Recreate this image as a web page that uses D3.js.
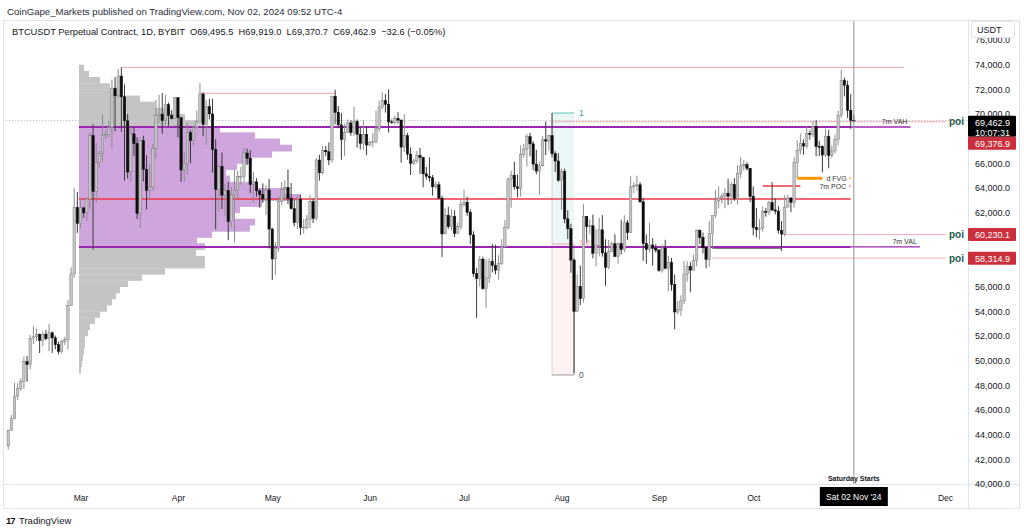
<!DOCTYPE html>
<html>
<head>
<meta charset="utf-8">
<script src="https://cdn.jsdelivr.net/npm/d3@7"></script>
<style>
  body { margin: 0; background: #fff; }
  svg { display: block; font-family: "Liberation Sans", Arial, sans-serif; }
</style>
</head>
<body>
<svg id="chart" width="1024" height="531"></svg>
<script>
// daily candles, BTCUSDT 1D, first bar 2024-02-07, open of a bar = previous close
const firstDay = "2024-02-07";
const firstOpen = 43090;

const closes = [
  // Feb 7-29
  44340, 45290, 47130, 47750, 48300, 49920, 49700, 51800, 51940, 52130, 51640, 52140, 51780, 52260, 51850, 51300, 50740, 51570, 51730, 54480, 57040, 62430, 61130,
  // Mar
  62390, 61990, 63110, 68250, 63720, 66070, 66820, 68250, 68330, 68930, 72100, 71480, 73080, 71400, 69450, 65300, 68390, 67610, 61940, 67840, 65500, 63800, 64080, 67230, 69890, 69990, 69460, 70760, 69900, 69650, 71330,
  // Apr
  69700, 65460, 65960, 68500, 67840, 68900, 69360, 71620, 69140, 70600, 70010, 67130, 63900, 65740, 63420, 63790, 61280, 63470, 63820, 64940, 64940, 66840, 66410, 64280, 64500, 63770, 63460, 63120, 63840, 60670,
  // May
  58250, 59120, 62890, 63890, 64030, 63160, 62330, 61190, 63070, 60800, 60820, 61470, 62900, 61550, 66270, 65230, 67050, 66940, 66280, 71440, 70140, 69120, 67930, 68530, 69280, 68510, 69390, 68360, 67630, 68350, 67490,
  // Jun
  67700, 67750, 68800, 70560, 71080, 70790, 69360, 69310, 69650, 69510, 67320, 68240, 66750, 66010, 66190, 66640, 66490, 65150, 64960, 64830, 64100, 64260, 63180, 60280, 61800, 60860, 61680, 60320, 60890, 62680,
  // Jul
  62850, 62030, 60200, 57050, 56660, 58230, 55850, 56700, 58030, 57740, 57340, 57900, 59220, 60790, 64720, 65040, 64100, 63970, 66710, 67160, 68160, 67580, 65940, 65370, 65800, 67910, 67810, 68250, 66780, 66190, 64620,
  // Aug
  65350, 61500, 60700, 58160, 53990, 56030, 55030, 61710, 60880, 60940, 58710, 59350, 60610, 58740, 57560, 58870, 59480, 58450, 59490, 59010, 61180, 60380, 64090, 64180, 64260, 62880, 59500, 59030, 59380, 59120, 58970,
  // Sep
  57330, 59130, 57490, 57970, 56160, 53950, 54140, 54840, 57020, 57650, 57340, 58130, 60570, 60000, 59180, 58210, 60310, 61760, 62950, 63200, 63350, 63580, 63340, 64280, 63140, 65180, 65790, 65890, 65600, 63330,
  // Oct
  60800, 60630, 60750, 62080, 62060, 62820, 62220, 62130, 60580, 60270, 62450, 63190, 62850, 66050, 67040, 67610, 67400, 68420, 68360, 69000, 67370, 67360, 66680, 68160, 66640, 67010, 67930, 69910, 72720, 72340, 70290,
  // Nov 1-2
  69495.5, 69462.9
];

const highs = [
  44400, 45600, 48200, 48170, 48590, 50330, 50370, 52080, 52800, 52580, 52200, 52360, 52480, 52980, 52370, 52040, 51550, 51680, 51950, 54910, 57580, 64000, 63680,
  63140, 62480, 63230, 68500, 69170, 67640, 67000, 69960, 68770, 69480, 72800, 73000, 73650, 73780, 72400, 70000, 68900, 68920, 68120, 68000, 68240, 66650, 65970, 67600, 71150, 71560, 71700, 71550, 70930, 70320, 71360,
  71340, 69700, 66900, 69300, 68700, 69000, 70300, 72500, 71760, 71170, 71240, 71230, 67940, 65850, 66870, 64360, 64490, 64100, 65480, 65390, 65700, 67240, 67200, 67070, 65300, 64800, 63900, 64380, 64230, 64740,
  60780, 59600, 63330, 64500, 64640, 65500, 64400, 62990, 63400, 63460, 61480, 61820, 63450, 63110, 66440, 66700, 67450, 67400, 67700, 71500, 71980, 70650, 70080, 69220, 69550, 69500, 70600, 69560, 68900, 69500, 69020,
  67860, 68450, 70280, 71060, 71760, 71620, 71990, 69560, 69860, 70150, 69560, 69990, 68450, 67300, 66400, 66990, 67240, 66490, 65720, 66480, 65060, 64530, 64510, 63370, 62350, 62480, 62300, 62200, 61200, 63060,
  63860, 63280, 62270, 60490, 57520, 58480, 58420, 58240, 58300, 59460, 59400, 58550, 59850, 61420, 64900, 65390, 66130, 65110, 67450, 67600, 68390, 68480, 67800, 67100, 66120, 68230, 69400, 68300, 70080, 66980, 66820,
  65590, 65580, 62200, 61100, 58290, 57000, 57720, 62700, 61720, 61450, 61850, 60700, 61580, 61800, 59850, 59800, 59650, 60250, 59600, 61400, 61800, 61400, 64950, 64500, 65000, 64480, 63210, 60230, 61190, 59940, 59450,
  59060, 59420, 59800, 58510, 58330, 56990, 54850, 55300, 58100, 58050, 57990, 58590, 60650, 60640, 60380, 59200, 61320, 61780, 63870, 64130, 63560, 64000, 64740, 64480, 64800, 65850, 66500, 66260, 66080, 65620,
  64130, 62390, 61480, 62480, 62370, 62970, 64480, 63200, 62540, 61320, 63420, 63480, 63280, 66490, 67880, 68420, 67940, 68990, 68680, 69420, 69500, 67820, 67470, 68800, 68730, 67450, 68330, 70270, 73620, 72960, 72690,
  71630, 69919.0
];

const lows = [
  42800, 44330, 45240, 46800, 47550, 47700, 48300, 49270, 51330, 51600, 50620, 51180, 51680, 50760, 50630, 50920, 50520, 50580, 51280, 50900, 54450, 56700, 60360,
  60780, 61600, 61330, 62350, 59000, 62800, 65650, 66150, 67990, 68120, 67200, 68600, 71330, 68560, 64600, 64780, 64550, 66600, 61500, 60770, 64530, 62260, 63000, 63800, 66400, 69280, 68400, 68900, 69060, 69560, 69630,
  68100, 64500, 64500, 65060, 66000, 67450, 68800, 69050, 68200, 67500, 69560, 65250, 60660, 62140, 62300, 61700, 59770, 60780, 59600, 63100, 64260, 64500, 65860, 63600, 62800, 63300, 62400, 62800, 61800, 59100,
  56550, 56940, 58810, 62590, 62960, 62700, 62250, 60880, 60650, 60190, 60310, 60630, 60750, 61160, 61350, 64600, 65100, 66600, 65860, 66060, 69160, 68850, 66300, 66620, 68500, 68240, 68240, 67280, 67130, 67120, 66670,
  67390, 67290, 67620, 68560, 70380, 70120, 68500, 69210, 69130, 69230, 66050, 66900, 66300, 65060, 65870, 66020, 65130, 64060, 64690, 64520, 63380, 63920, 63180, 58400, 60260, 60700, 60570, 60020, 60320, 60620,
  62500, 61750, 59440, 56800, 53480, 56000, 55740, 54260, 56300, 57160, 57000, 56580, 57770, 59200, 60650, 62400, 63860, 63240, 63300, 66450, 65750, 66570, 65440, 65110, 63450, 65740, 66660, 67050, 66500, 65300, 64520,
  62250, 61140, 59860, 57130, 49000, 53950, 54500, 54700, 59530, 60250, 58300, 57650, 58460, 58430, 56080, 57450, 58790, 58430, 57850, 58600, 58800, 59800, 60350, 63600, 63770, 62800, 58100, 57860, 58780, 57700, 58760,
  57200, 57130, 57420, 55600, 55670, 52550, 53750, 53650, 54600, 56400, 55550, 57320, 57650, 59440, 58700, 57500, 57630, 59180, 61590, 62340, 62740, 62360, 62620, 62700, 62960, 62670, 64820, 65420, 65430, 62860,
  60160, 59990, 59830, 60460, 61680, 61830, 62130, 61860, 60300, 58900, 60080, 62450, 62040, 62420, 64800, 66750, 66700, 67200, 67910, 68100, 66570, 66580, 65260, 66500, 65600, 66450, 66800, 67450, 69700, 71430, 69690,
  68800, 69370.7
];

// fixed range volume profile (Mar 1 - Nov 2), 500 USDT rows
const profilePrices = [
  73750, 73250, 72750, 72250, 71750, 71250, 70750, 70250, 69750, 69250,
  68750, 68250, 67750, 67250, 66750, 66250, 65750, 65250, 64750, 64250,
  63750, 63250, 62750, 62250, 61750, 61250, 60750, 60250, 59750, 59250,
  58750, 58250, 57750, 57250, 56750, 56250, 55750, 55250, 54750, 54250,
  53750, 53250, 52750, 52250, 51750, 51250, 50750, 50250, 49750, 49250
];
const profileVolume = [
  5, 10, 21, 31, 43, 61, 76, 91, 106, 119,
  141, 176, 201, 213, 193, 173, 158, 147, 151, 179,
  206, 221, 183, 161, 156, 176, 171, 133, 118, 126,
  117, 126, 126, 86, 63, 49, 41, 37, 33, 28,
  21, 16, 11, 9, 6, 6, 5, 4, 3, 2
];
const profileStart = "2024-03-01";
const vah = 68950, poc = 63110, val = 59220;

// drawn levels
const swingHighs = [73780, 71680];
const swingFrom = ["2024-03-14", "2024-04-08"];
const swingTo = ["2024-11-18", "2024-05-21"];
const poiLevels = [69376.9, 60230.1, 58314.9];
const poiFrom = ["2024-07-29", "2024-10-10", "2024-09-18"];
const fibHigh = 70080, fibLow = 48840;
const fibDays = ["2024-07-29", "2024-08-05"];
const fvgPrice = 64790, fvgDays = ["2024-10-15", "2024-10-23"];
const poc7Price = 64165, poc7Days = ["2024-10-04", "2024-10-16"];
const greyLevel = 59100, greyDays = ["2024-09-18", "2024-10-10"];

const lastPrice = 69462.9;
// 68k, 60k and 58k sit under the price tags, so they are not shown
const priceTicks = [76000, 74000, 72000, 70000, 66000, 64000, 62000, 56000,
                    54000, 52000, 50000, 48000, 46000, 44000, 42000, 40000];

// ---------------------------------------------------------------
const svg = d3.select("#chart");
const W = 1024, H = 531;
const plot = { left: 3, top: 20, right: 968, bottom: 484 };
const ink = "#131722";
const parse = d3.utcParse("%Y-%m-%d");
const fmt = d3.format(",.1f");

const x = d3.scaleUtc()
  .domain([Date.UTC(2024, 2, 1), Date.UTC(2024, 11, 1)])
  .range([80.5, 945]);
const y = d3.scaleLinear().domain([40000, 74000]).range([484, 64.7]);

const day0 = parse(firstDay);
const candles = closes.map((c, i) => ({
  date: d3.utcDay.offset(day0, i),
  open: i === 0 ? firstOpen : closes[i - 1],
  high: highs[i], low: lows[i], close: c
}));

svg.append("defs").append("clipPath").attr("id", "plotClip")
  .append("rect")
  .attr("x", plot.left).attr("y", plot.top)
  .attr("width", plot.right - plot.left).attr("height", plot.bottom - plot.top);
svg.select("defs").append("clipPath").attr("id", "vaClip")
  .append("rect")
  .attr("x", 0).attr("y", y(vah))
  .attr("width", W).attr("height", y(val) - y(vah));

const g = svg.append("g").attr("clip-path", "url(#plotClip)");

// volume profile
const px0 = x(parse(profileStart)) - 1.5;
const vol = d3.scaleLinear().domain([0, 100]).range([0, 100]);
const rowH = y(0) - y(500);
const profile = profilePrices.map((p, i) => ({ p, v: profileVolume[i] }));

g.append("g").selectAll("rect").data(profile).join("rect")
  .attr("x", px0)
  .attr("y", d => y(d.p + 250))
  .attr("width", d => vol(d.v))
  .attr("height", rowH + 0.3)
  .attr("fill", "#c4c4c4");

g.append("g").attr("clip-path", "url(#vaClip)")
  .selectAll("rect").data(profile).join("rect")
  .attr("x", px0)
  .attr("y", d => y(d.p + 250))
  .attr("width", d => vol(d.v))
  .attr("height", rowH + 0.3)
  .attr("fill", "#cfa5de");

// fib box
const fx0 = x(parse(fibDays[0])), fx1 = x(parse(fibDays[1]));
const fibMid = (fibHigh + fibLow) / 2;
g.append("rect").attr("x", fx0).attr("y", y(fibHigh))
  .attr("width", fx1 - fx0).attr("height", y(fibMid) - y(fibHigh))
  .attr("fill", "rgba(38,166,154,0.09)");
g.append("rect").attr("x", fx0).attr("y", y(fibMid))
  .attr("width", fx1 - fx0).attr("height", y(fibLow) - y(fibMid))
  .attr("fill", "rgba(242,54,69,0.07)");
g.append("line").attr("x1", fx0).attr("x2", fx1).attr("y1", y(fibHigh)).attr("y2", y(fibHigh))
  .attr("stroke", "#5fc3b8").attr("stroke-width", 1);
g.append("line").attr("x1", fx0).attr("x2", fx1).attr("y1", y(fibMid)).attr("y2", y(fibMid))
  .attr("stroke", "#f2a0a8").attr("stroke-width", 1);
g.append("line").attr("x1", fx0).attr("x2", fx1).attr("y1", y(fibLow)).attr("y2", y(fibLow))
  .attr("stroke", "#9a9a9a").attr("stroke-width", 1);
g.append("line").attr("x1", fx0).attr("x2", fx0).attr("y1", y(fibHigh)).attr("y2", y(fibLow))
  .attr("stroke", "#c9c9c9").attr("stroke-width", 0.8);
g.append("line").attr("x1", fx1).attr("x2", fx1).attr("y1", y(fibMid)).attr("y2", y(fibLow))
  .attr("stroke", "#9a9a9a").attr("stroke-width", 0.8);

// last price dotted line
g.append("line").attr("x1", plot.left).attr("x2", plot.right)
  .attr("y1", y(lastPrice)).attr("y2", y(lastPrice))
  .attr("stroke", "#c4c6cc").attr("stroke-width", 1).attr("stroke-dasharray", "1.5,1.5");

// swing-high lines
swingHighs.forEach((p, i) => {
  g.append("line")
    .attr("x1", x(parse(swingFrom[i]))).attr("x2", x(parse(swingTo[i])))
    .attr("y1", y(p)).attr("y2", y(p))
    .attr("stroke", "#e9a6ae").attr("stroke-width", 1);
});

// poi lines
poiLevels.forEach((p, i) => {
  g.append("line")
    .attr("x1", x(parse(poiFrom[i]))).attr("x2", 946)
    .attr("y1", y(p)).attr("y2", y(p))
    .attr("stroke", "#f0b4ba").attr("stroke-width", 1);
});

// grey level
g.append("line")
  .attr("x1", x(parse(greyDays[0]))).attr("x2", x(parse(greyDays[1])))
  .attr("y1", y(greyLevel)).attr("y2", y(greyLevel))
  .attr("stroke", "#777").attr("stroke-width", 1);

// value area / poc lines
const lvlEnd = x(parse("2024-11-01"));
g.append("line").attr("x1", px0).attr("x2", lvlEnd).attr("y1", y(poc)).attr("y2", y(poc))
  .attr("stroke", "#f23645").attr("stroke-width", 1.3);
[[vah, "2024-11-20"], [val, "2024-11-23"]].forEach(([p, end]) => {
  g.append("line").attr("x1", lvlEnd).attr("x2", x(parse(end))).attr("y1", y(p)).attr("y2", y(p))
    .attr("stroke", "#9c27b0").attr("stroke-width", 1.3);
  g.append("line").attr("x1", px0).attr("x2", lvlEnd).attr("y1", y(p)).attr("y2", y(p))
    .attr("stroke", "#9c27b0").attr("stroke-width", 2);
});

// 7m POC short line and d FVG
g.append("line")
  .attr("x1", x(parse(poc7Days[0]))).attr("x2", x(parse(poc7Days[1])))
  .attr("y1", y(poc7Price)).attr("y2", y(poc7Price))
  .attr("stroke", "#f23645").attr("stroke-width", 1.3);
g.append("line")
  .attr("x1", x(parse(fvgDays[0]))).attr("x2", x(parse(fvgDays[1])))
  .attr("y1", y(fvgPrice)).attr("y2", y(fvgPrice))
  .attr("stroke", "#ff9800").attr("stroke-width", 3);

// candles
const bw = 2.4;
const cg = g.append("g");
cg.selectAll("line").data(candles).join("line")
  .attr("x1", d => x(d.date)).attr("x2", d => x(d.date))
  .attr("y1", d => y(d.high)).attr("y2", d => y(d.low))
  .attr("stroke", d => d.close >= d.open ? "#8d8d8d" : "#3a3a3a")
  .attr("stroke-width", 1);
cg.selectAll("rect").data(candles).join("rect")
  .attr("x", d => x(d.date) - bw / 2)
  .attr("y", d => y(Math.max(d.open, d.close)))
  .attr("width", bw)
  .attr("height", d => Math.max(0.8, Math.abs(y(d.open) - y(d.close))))
  .attr("fill", d => d.close >= d.open ? "#c6c6c6" : "#0d0d0d")
  .attr("stroke", d => d.close >= d.open ? "#7c7c7c" : "#0d0d0d")
  .attr("stroke-width", 0.5);

// crosshair at last bar
const lastX = x(candles[candles.length - 1].date);
svg.append("line").attr("x1", lastX).attr("x2", lastX).attr("y1", plot.top).attr("y2", plot.bottom)
  .attr("stroke", "#8e9099").attr("stroke-width", 1);

// annotation texts
const small = (t, xx, yy, col, size, anchor) => svg.append("text")
  .attr("x", xx).attr("y", yy).attr("fill", col).attr("font-size", size)
  .attr("text-anchor", anchor || "start").text(t);

small("1", fx1 + 5, y(fibHigh) + 3, "#26a69a", 8.5);
small("0", fx1 + 5, y(fibLow) + 3, "#555", 8.5);
small("0.5", fx1 + 6, y(fibMid) + 1, "#f09aa3", 7);
small("7m VAH", x(parse("2024-11-20")) - 3, y(vah) - 2.5, "#333", 7, "end");
small("7m VAL", x(parse("2024-11-23")) - 3, y(val) - 3, "#333", 7, "end");
small("d FVG", x(parse(fvgDays[1])) + 4, y(fvgPrice) + 2.5, "#333", 7);
small("7m POC", x(parse(fvgDays[1])) - 3, y(poc7Price) + 3, "#333", 7);
svg.append("circle").attr("cx", 850).attr("cy", y(fvgPrice)).attr("r", 0.9).attr("fill", "#ff9800");
svg.append("circle").attr("cx", 850).attr("cy", y(poc7Price)).attr("r", 0.9).attr("fill", "#f48a94");

poiLevels.forEach(p => {
  svg.append("text").attr("x", 949).attr("y", y(p) + 3.5)
    .attr("fill", "#1f5c4d").attr("font-size", 10).attr("font-weight", "bold").text("poi");
});

// frame
svg.append("rect").attr("x", 3.5).attr("y", 20.5).attr("width", 1016).attr("height", 488)
  .attr("fill", "none").attr("stroke", "#e0e3eb");
svg.append("line").attr("x1", plot.right + 0.5).attr("x2", plot.right + 0.5).attr("y1", 20).attr("y2", 508)
  .attr("stroke", "#e0e3eb");
svg.append("line").attr("x1", 3).attr("x2", 1020).attr("y1", plot.bottom + 0.5).attr("y2", plot.bottom + 0.5)
  .attr("stroke", "#e0e3eb");

// right price axis
const yAxis = svg.append("g").attr("transform", `translate(${plot.right + 3},0)`)
  .call(d3.axisRight(y).tickValues(priceTicks).tickFormat(fmt).tickSize(0).tickPadding(4));
yAxis.select(".domain").remove();
yAxis.selectAll("text").attr("fill", ink).attr("font-size", 9)
  .attr("font-family", "'Liberation Sans', Arial, sans-serif");

svg.append("rect").attr("x", 971.5).attr("y", 21.5).attr("width", 43).attr("height", 16).attr("rx", 2)
  .attr("fill", "#fff").attr("stroke", "#e0e3eb");
small("USDT", 977, 33, ink, 9);

// price labels
const tag = (yy, h, fill, lines) => {
  svg.append("rect").attr("x", plot.right).attr("y", yy).attr("width", 48).attr("height", h)
    .attr("fill", fill).attr("rx", 1);
  lines.forEach((t, i) => small(t, plot.right + 7, yy + 10 + i * 10, "#fff", 9));
};
const lastY = y(lastPrice);
tag(lastY - 5, 21, "#000", [fmt(lastPrice), "10:07:31"]);
tag(lastY + 16, 13, "#cc2f3c", [fmt(poiLevels[0])]);
tag(y(poiLevels[1]) - 6.5, 13, "#cc2f3c", [fmt(poiLevels[1])]);
tag(y(poiLevels[2]) - 6.5, 13, "#cc2f3c", [fmt(poiLevels[2])]);

// bottom time axis
const xAxis = svg.append("g").attr("transform", `translate(0,${plot.bottom + 8})`)
  .call(d3.axisBottom(x).ticks(d3.utcMonth.every(1)).tickFormat(d3.utcFormat("%b")).tickSize(0));
xAxis.select(".domain").remove();
xAxis.selectAll("text").attr("fill", ink).attr("font-size", 8.5)
  .attr("font-family", "'Liberation Sans', Arial, sans-serif");
xAxis.selectAll(".tick").filter(d => d.getUTCMonth() === 10).remove();

svg.append("rect").attr("x", lastX - 34).attr("y", 487).attr("width", 68).attr("height", 19)
  .attr("fill", "#000");
small("Sat 02 Nov '24", lastX, 500, "#fff", 8.5, "middle");
small("Saturday Starts", lastX, 481, ink, 7, "middle").attr("font-weight", "bold");

// header
small("CoinGape_Markets published on TradingView.com, Nov 02, 2024 09:52 UTC-4", 7, 15, "#2a2e39", 9.6);
small("BTCUSDT Perpetual Contract, 1D, BYBIT  O69,495.5  H69,919.0  L69,370.7  C69,462.9  \u221232.6 (\u22120.05%)",
  12, 35, ink, 9.3).attr("xml:space", "preserve").style("white-space", "pre");

// footer logo
small("17", 6, 524, ink, 9.5).attr("font-weight", "bold").attr("letter-spacing", "-1");
small("TradingView", 19, 524, ink, 9.5);
</script>
</body>
</html>
